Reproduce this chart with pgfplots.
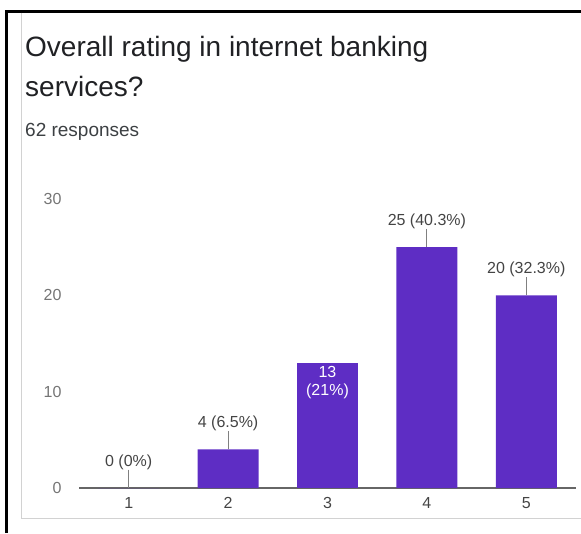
\documentclass[border=0pt]{standalone}
\usepackage{pgfplots}
\pgfplotsset{compat=1.18}
\usepackage{fontspec}
\setmainfont{Liberation Sans}
\definecolor{barpurple}{RGB}{94,45,196}
\definecolor{titlec}{RGB}{32,33,36}
\definecolor{subc}{RGB}{60,64,67}
\definecolor{tickc}{RGB}{117,117,117}
\definecolor{labc}{RGB}{68,68,68}
\begin{document}
\begin{tikzpicture}[x=1pt,y=1pt]
\path[use as bounding box] (0,0) rectangle (581,533);
\draw[black, line width=3pt] (6.5,0) -- (6.5,523);
\draw[black, line width=3pt] (5,521.5) -- (581,521.5);
\draw[gray!35, line width=1pt] (21,520) -- (21,15) -- (581,15);
\node[anchor=base west, inner sep=0, text=titlec, font=\fontsize{28}{32}\selectfont] at (25,476) {Overall rating in internet banking};
\node[anchor=base west, inner sep=0, text=titlec, font=\fontsize{28}{32}\selectfont] at (25,436) {services?};
\node[anchor=base west, inner sep=0, text=subc, font=\fontsize{19}{22}\selectfont] at (25,396) {62 responses};
\begin{axis}[
  at={(79pt,45pt)}, anchor=south west, scale only axis,
  width=497pt, height=289pt,
  xmin=0.5, xmax=5.5, ymin=0, ymax=30,
  clip=false,
  axis x line=bottom, axis y line=left,
  y axis line style={draw=none},
  x axis line style={-, draw=gray!80!black, line width=2pt},
  major tick length=0pt,
  xtick={1,2,3,4,5}, ytick={0,10,20,30},
  /pgf/number format/assume math mode=true,
  yticklabel style={anchor=east, xshift=-14pt, text=tickc, font=\fontsize{16}{19}\selectfont},
  xticklabel style={anchor=north, yshift=-6pt, text=labc, font=\fontsize{16}{19}\selectfont},
]
\addplot[ybar, bar width=61pt, bar shift=0pt, fill=barpurple, draw=none,
  point meta=explicit symbolic,
  nodes near coords,
  every node near coord/.append style={anchor=south, yshift=17pt, inner sep=1pt, text=labc, font=\fontsize{16}{19}\selectfont},
  error bars/.cd, y dir=plus, y explicit, error mark=none,
  error bar style={draw=gray, line width=0.8pt}]
coordinates {(1,0) +- (0,1.9) [0 (0\%)] (2,4) +- (0,1.9) [4 (6.5\%)] (4,25) +- (0,1.9) [25 (40.3\%)] (5,20) +- (0,1.9) [20 (32.3\%)]};
\addplot[ybar, bar width=61pt, bar shift=0pt, fill=barpurple, draw=none,
  nodes near coords={13\\(21\%)},
  every node near coord/.append style={anchor=north, align=center, yshift=-2pt, inner sep=1pt, text=white, font=\fontsize{16}{18}\selectfont}]
coordinates {(3,13)};
\end{axis}
\end{tikzpicture}
\end{document}
